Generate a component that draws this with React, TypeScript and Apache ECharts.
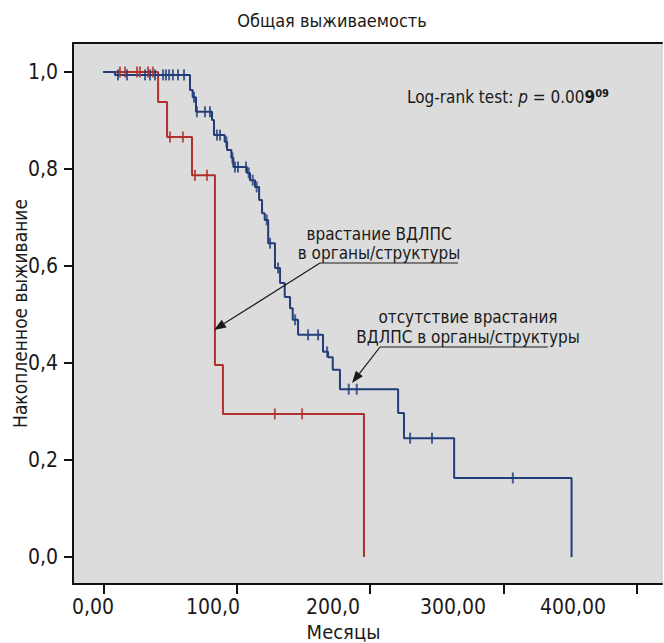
import React, { useEffect, useRef } from "react";
import * as echarts from "echarts";

// ---- data (months, cumulative survival) ----
// Group without invasion (blue)
const blueTimes = [0, 8.8, 65, 67, 69.5, 81.5, 83, 91, 92.8, 96, 97.5, 107.7, 110, 113.7, 116.8, 119, 121, 123.6, 128.7, 132.5, 136, 140, 142, 146, 164.7, 168.5, 172, 177.4, 221, 225.4, 263, 351];
const blueSurv = [1.0, 0.994, 0.963, 0.948, 0.918, 0.901, 0.870, 0.856, 0.839, 0.823, 0.804, 0.792, 0.777, 0.763, 0.736, 0.709, 0.695, 0.647, 0.596, 0.565, 0.536, 0.513, 0.489, 0.458, 0.423, 0.412, 0.386, 0.346, 0.297, 0.245, 0.163, 0.0];
const blueCensored = [11, 17.8, 31.3, 35, 38.8, 44.8, 47, 49.3, 52.2, 56, 60.5, 68, 70.2, 76.2, 80, 85.2, 87.5, 92.3, 96.8, 98.7, 101, 107, 109, 112, 115, 122.5, 125, 131, 143.8, 153.5, 161, 167.8, 184, 190, 230, 246.4, 307];
// Group with invasion (red)
const redTimes = [0, 41.1, 47.8, 66.5, 83.7, 89.7, 195.4];
const redSurv = [1.0, 0.938, 0.866, 0.787, 0.396, 0.295, 0.0];
const redCensored = [12.5, 16.3, 25.3, 27.5, 33.5, 37.2, 50, 59.7, 68.7, 77.7, 128.6, 149];

const xTickValues = [0, 100, 200, 300, 400];
const xTickLabels = ["0,00", "100,0", "200,0", "300,00", "400,00"];
const yTickValues = [0, 0.2, 0.4, 0.6, 0.8, 1.0];
const yTickLabels = ["0,0", "0,2", "0,4", "0,6", "0,8", "1,0"];

const titleText = "Общая выживаемость";
const xName = "Месяцы";
const yName = "Накопленное выживание";
const note1 = "врастание ВДЛПС\nв органы/структуры";
const note2 = "отсутствие врастания\nВДЛПС в органы/структуры";

const FONT = '"Liberation Sans Narrow", "Arial Narrow", "DejaVu Sans Condensed", "Roboto", sans-serif';
const BLUE = "#223d7a";
const RED = "#b0302b";

function survAt(times: number[], vals: number[], t: number) {
  let v = vals[0];
  for (let i = 0; i < times.length; i++) {
    if (times[i] <= t) v = vals[i];
  }
  return v;
}

function arrow(x1: number, y1: number, x2: number, y2: number) {
  const dx = x2 - x1, dy = y2 - y1;
  const len = Math.sqrt(dx * dx + dy * dy);
  const ux = dx / len, uy = dy / len;
  const L = 12, W = 4.5;
  const bx = x2 - ux * L, by = y2 - uy * L;
  return [
    { type: "line", shape: { x1, y1, x2: bx, y2: by }, style: { stroke: "#1a1a1a", lineWidth: 1.2 } },
    {
      type: "polygon",
      shape: { points: [[x2, y2], [bx - uy * W, by + ux * W], [bx + uy * W, by - ux * W]] },
      style: { fill: "#1a1a1a" },
    },
  ];
}

export default function App() {
  const ref = useRef<HTMLDivElement>(null);
  useEffect(() => {
    document.body.style.margin = "0";
    if (!ref.current) return;
    const chart = echarts.init(ref.current, null, { renderer: "svg" });
    const blueLine = blueTimes.map((t, i) => [t, blueSurv[i]]);
    const redLine = redTimes.map((t, i) => [t, redSurv[i]]);
    const blueCens = blueCensored.map((t) => [t, survAt(blueTimes, blueSurv, t)]);
    const redCens = redCensored.map((t) => [t, survAt(redTimes, redSurv, t)]);

    chart.setOption({
      animation: false,
      backgroundColor: "#ffffff",
      textStyle: { fontFamily: FONT },
      title: {
        text: titleText,
        left: "center",
        top: 6,
        padding: [5, 8, 5, 0],
        textStyle: { fontFamily: FONT, fontSize: 18, fontWeight: "normal", color: "#1a1a1a" },
      },
      grid: {
        left: 73, top: 43, right: 2, bottom: 59,
        outerBoundsMode: "none",
        containLabel: false,
        show: true, backgroundColor: "#dcdcdc", borderColor: "#c4c4c4", borderWidth: 1,
      },
      xAxis: [
        {
          type: "value", min: -22.7, max: 418.8, position: "bottom",
          splitLine: { show: false },
          axisLine: { show: true, onZero: false, lineStyle: { color: "#111", width: 2 } },
          axisTick: { show: true, customValues: xTickValues, length: 10, inside: false, lineStyle: { color: "#111", width: 2 } },
          axisLabel: { show: false },
        },
        {
          type: "value", min: -16.7, max: 474.2, position: "bottom",
          splitLine: { show: false },
          axisLine: { show: false, onZero: false },
          axisTick: { show: false },
          axisLabel: {
            show: true, customValues: xTickValues, margin: 13, lineHeight: 20,
            fontFamily: FONT, fontSize: 21, color: "#1a1a1a",
            formatter: (v: number) => xTickLabels[xTickValues.indexOf(Math.round(v))] ?? "",
          },
          name: xName, nameLocation: "middle", nameGap: 38, nameMoveOverlap: false,
          nameTextStyle: { fontFamily: FONT, fontSize: 20, lineHeight: 20, color: "#1a1a1a", padding: [0, 48, 0, 0] },
        },
        {
          type: "value", min: 0, max: 1, position: "top",
          splitLine: { show: false },
          axisLine: { show: true, onZero: false, lineStyle: { color: "#111", width: 2 } },
          axisTick: { show: false }, axisLabel: { show: false },
        },
      ],
      yAxis: {
        type: "value", min: -0.0557, max: 1.0598,
        splitLine: { show: false },
        axisLine: { show: true, onZero: false, lineStyle: { color: "#111", width: 2 } },
        axisTick: { show: true, customValues: yTickValues, length: 9, lineStyle: { color: "#111", width: 2 } },
        axisLabel: {
          show: true, customValues: yTickValues, margin: 15,
          fontFamily: FONT, fontSize: 21, color: "#1a1a1a",
          formatter: (v: number) => yTickLabels[yTickValues.findIndex((y) => Math.abs(y - v) < 1e-6)] ?? "",
        },
        name: yName, nameLocation: "middle", nameGap: 44, nameMoveOverlap: false,
        nameTextStyle: { fontFamily: FONT, fontSize: 19, color: "#1a1a1a" },
      },
      series: [
        {
          type: "line", xAxisIndex: 0, data: redLine, step: "end", symbol: "none",
          lineStyle: { color: RED, width: 2 }, z: 2,
        },
        {
          type: "line", xAxisIndex: 0, data: blueLine, step: "end", symbol: "none",
          lineStyle: { color: BLUE, width: 2 }, z: 3,
        },
        {
          type: "scatter", xAxisIndex: 0, data: redCens, symbol: "rect", symbolSize: [2, 11],
          itemStyle: { color: RED }, z: 4,
        },
        {
          type: "scatter", xAxisIndex: 0, data: blueCens, symbol: "rect", symbolSize: [2, 11],
          itemStyle: { color: BLUE }, z: 5,
        },
      ],
      graphic: [
        {
          type: "text", left: 407, top: 88, z: 10,
          style: {
            text: "{n|Log-rank test: }{i|p}{n| = 0.00}{b|9}{s|09}",
            rich: {
              n: { fontFamily: FONT, fontSize: 17, fill: "#1a1a1a" },
              i: { fontFamily: FONT, fontSize: 17, fontStyle: "italic", fill: "#1a1a1a" },
              b: { fontFamily: FONT, fontSize: 17, fontWeight: "bold", fill: "#1a1a1a" },
              s: { fontFamily: FONT, fontSize: 11, fontWeight: "bold", fill: "#1a1a1a", verticalAlign: "top" },
            },
          },
        },
        {
          type: "text", x: 379, y: 243, z: 10,
          style: { text: note1, fontFamily: FONT, fontSize: 17, lineHeight: 19, fill: "#1a1a1a", align: "center", verticalAlign: "middle" },
        },
        { type: "line", z: 10, shape: { x1: 320, y1: 263, x2: 458, y2: 263 }, style: { stroke: "#1a1a1a", lineWidth: 1.2 } },
        ...arrow(320, 263, 214, 330).map((e) => ({ ...e, z: 10 })),
        {
          type: "text", x: 468, y: 327, z: 10,
          style: { text: note2, fontFamily: FONT, fontSize: 17, lineHeight: 20, fill: "#1a1a1a", align: "center", verticalAlign: "middle" },
        },
        { type: "line", z: 10, shape: { x1: 380, y1: 347, x2: 548, y2: 347 }, style: { stroke: "#1a1a1a", lineWidth: 1.2 } },
        ...arrow(380, 347, 352, 383).map((e) => ({ ...e, z: 10 })),
      ],
    });
    return () => chart.dispose();
  }, []);
  return <div ref={ref} style={{ width: 664, height: 643 }} />;
}
